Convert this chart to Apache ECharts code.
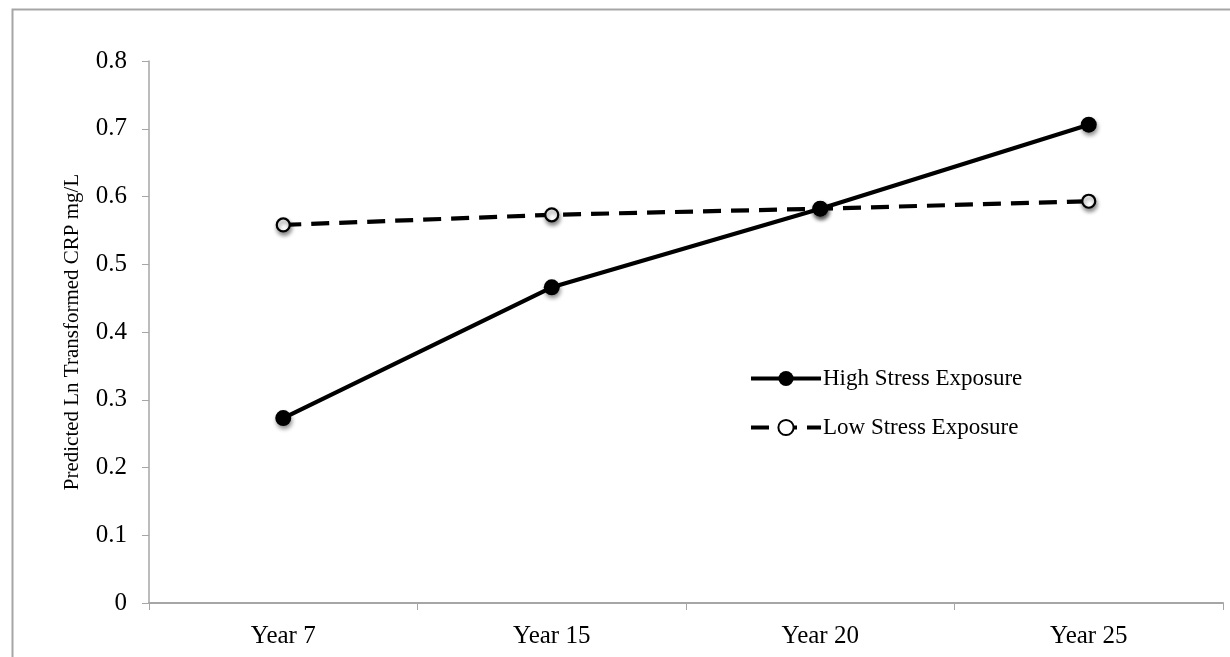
<!DOCTYPE html>
<html>
<head>
<meta charset="utf-8">
<script src="https://cdn.jsdelivr.net/npm/echarts@6/dist/echarts.min.js"></script>
<style>html,body{margin:0;padding:0;background:#fff}#c{width:1230px;height:657px}</style>
</head>
<body>
<div id="c"></div>
<script>
var categories = ['Year 7', 'Year 15', 'Year 20', 'Year 25'];
var highStress = [0.273, 0.466, 0.582, 0.706];
var lowStress = [0.558, 0.573, 0.582, 0.593];
var yTicks = { min: 0, max: 0.8, interval: 0.1 };

var font = 'Liberation Serif';
var chart = echarts.init(document.getElementById('c'));
var shadow = { shadowBlur: 4, shadowColor: 'rgba(0,0,0,0.45)', shadowOffsetY: 3, shadowOffsetX: 1 };
chart.setOption({
  animation: false,
  backgroundColor: '#fff',
  graphic: [{
    type: 'rect', left: 10, top: 7, shape: { width: 1300, height: 700 },
    style: { fill: 'none', stroke: '#a6a6a6', lineWidth: 2 }, silent: true, z: -1
  }],
  grid: { left: 149, right: 7, top: 61, bottom: 54 },
  legend: {
    orient: 'vertical', left: 744, top: 362, itemGap: 26, itemWidth: 70, itemHeight: 19,
    lineStyle: { width: 4 },
    textStyle: { fontFamily: font, fontSize: 23, color: '#000', padding: [0, 0, 0, -3] },
    data: ['High Stress Exposure', 'Low Stress Exposure']
  },
  xAxis: {
    type: 'category', data: categories, boundaryGap: true,
    axisLine: { lineStyle: { color: '#a6a6a6', width: 2 } },
    axisTick: { show: true, alignWithLabel: false, length: 7, lineStyle: { color: '#a6a6a6', width: 1 } },
    axisLabel: { fontFamily: font, fontSize: 25, color: '#000', margin: 21 }
  },
  yAxis: {
    type: 'value', min: yTicks.min, max: yTicks.max, interval: yTicks.interval,
    name: 'Predicted Ln Transformed CRP mg/L', nameLocation: 'middle', nameGap: 66,
    nameTextStyle: { fontFamily: font, fontSize: 21, color: '#000' },
    splitLine: { show: false },
    axisLine: { show: true, lineStyle: { color: '#a6a6a6', width: 1.5 } },
    axisTick: { show: true, length: 7, lineStyle: { color: '#a6a6a6' } },
    axisLabel: { fontFamily: font, fontSize: 25, color: '#000', margin: 22,
      formatter: function (v) { return v === 0 ? '0' : v.toFixed(1); } }
  },
  series: [{
    name: 'High Stress Exposure', type: 'line', data: highStress,
    symbol: 'circle', symbolSize: 16,
    lineStyle: { color: '#000', width: 4.2 },
    itemStyle: Object.assign({ color: '#000' }, shadow),
    z: 3
  }, {
    name: 'Low Stress Exposure', type: 'line', data: lowStress,
    symbol: 'circle', symbolSize: 13,
    lineStyle: { color: '#000', width: 4.2, type: [18, 10] },
    itemStyle: Object.assign({ color: '#fff', borderColor: '#000', borderWidth: 2.2 }, shadow),
    z: 2
  }]
});
</script>
</body>
</html>
